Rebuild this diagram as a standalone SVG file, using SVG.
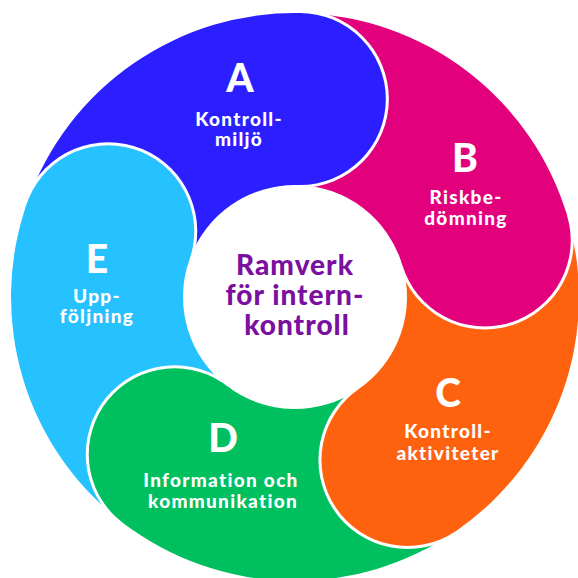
<svg xmlns="http://www.w3.org/2000/svg" width="578" height="578" viewBox="0 0 578 578">
  <style>
    .lbl { font-family: "Lato", "Liberation Sans", sans-serif; font-weight: 900; fill: #ffffff; text-anchor: middle; }
    .big { font-size: 39px; }
    .sub { font-size: 19px; letter-spacing: 1.3px; }
    .ctr { font-family: "Lato", "Liberation Sans", sans-serif; font-weight: 900; fill: #7B0FA0; text-anchor: middle; font-size: 28px; letter-spacing: 1px; }
  </style>
  <defs>
    <mask id="mA" maskUnits="userSpaceOnUse" x="0" y="0" width="578" height="578">
      <rect width="578" height="578" fill="#fff"/>
      <circle cx="108.24" cy="231.23" r="89" fill="#000"/>
    </mask>
    <mask id="mB" maskUnits="userSpaceOnUse" x="0" y="0" width="578" height="578">
      <rect width="578" height="578" fill="#fff"/>
      <circle cx="299.84" cy="99.06" r="89" fill="#000"/>
    </mask>
    <mask id="mC" maskUnits="userSpaceOnUse" x="0" y="0" width="578" height="578">
      <rect width="578" height="578" fill="#fff"/>
      <circle cx="484.75" cy="240.43" r="89" fill="#000"/>
    </mask>
    <mask id="mD" maskUnits="userSpaceOnUse" x="0" y="0" width="578" height="578">
      <rect width="578" height="578" fill="#fff"/>
      <circle cx="407.43" cy="459.98" r="89" fill="#000"/>
    </mask>
    <mask id="mE" maskUnits="userSpaceOnUse" x="0" y="0" width="578" height="578">
      <rect width="578" height="578" fill="#fff"/>
      <circle cx="174.74" cy="454.29" r="89" fill="#000"/>
    </mask>
  </defs>
  <rect width="578" height="578" fill="#ffffff"/>

  <g id="nodeA">
    <path fill="#2B1FFF" mask="url(#mA)" d="M 27.13 202.67 A 284 284 0 0 1 301.94 13.09 L 297.74 185.03 A 112 112 0 0 0 189.36 259.80 Z"/>
    <circle cx="299.84" cy="99.06" r="86" fill="#2B1FFF"/>
    <text class="lbl big" x="240" y="92">A</text>
    <text class="lbl sub" x="239" y="126">Kontroll-</text>
    <text class="lbl sub" x="239" y="146">miljö</text>
  </g>

  <g id="nodeB">
    <path fill="#E3007D" mask="url(#mB)" d="M 301.94 13.09 A 284 284 0 0 1 567.16 215.86 L 402.33 265.00 A 112 112 0 0 0 297.74 185.03 Z"/>
    <circle cx="484.75" cy="240.43" r="86" fill="#E3007D"/>
    <text class="lbl big" x="465" y="172">B</text>
    <text class="lbl sub" x="466" y="204">Riskbe-</text>
    <text class="lbl sub" x="466" y="225">dömning</text>
  </g>

  <g id="nodeC">
    <path fill="#FF620F" mask="url(#mC)" d="M 567.16 215.86 A 284 284 0 0 1 456.27 530.77 L 358.60 389.19 A 112 112 0 0 0 402.33 265.00 Z"/>
    <circle cx="407.43" cy="459.98" r="86" fill="#FF620F"/>
    <text class="lbl big" x="448" y="407">C</text>
    <text class="lbl sub" x="448" y="438">Kontroll-</text>
    <text class="lbl sub" x="448" y="460">aktiviteter</text>
  </g>

  <g id="nodeD">
    <path fill="#00BF5F" mask="url(#mD)" d="M 456.27 530.77 A 284 284 0 0 1 122.50 522.61 L 226.97 385.97 A 112 112 0 0 0 358.60 389.19 Z"/>
    <circle cx="174.74" cy="454.29" r="86" fill="#00BF5F"/>
    <text class="lbl big" x="223" y="452">D</text>
    <text class="lbl sub" x="221" y="487">Information och</text>
    <text class="lbl sub" x="223" y="508">kommunikation</text>
  </g>

  <g id="nodeE">
    <path fill="#25C2FF" mask="url(#mE)" d="M 122.50 522.61 A 284 284 0 0 1 27.13 202.67 L 189.36 259.80 A 112 112 0 0 0 226.97 385.97 Z"/>
    <circle cx="108.24" cy="231.23" r="86" fill="#25C2FF"/>
    <text class="lbl big" x="97" y="273">E</text>
    <text class="lbl sub" x="97" y="303">Upp-</text>
    <text class="lbl sub" x="97" y="323">följning</text>
  </g>

  <g id="center">
    <text class="ctr" x="295" y="275">Ramverk</text>
    <text class="ctr" x="295" y="305">för intern-</text>
    <text class="ctr" x="297" y="335">kontroll</text>
  </g>
</svg>
